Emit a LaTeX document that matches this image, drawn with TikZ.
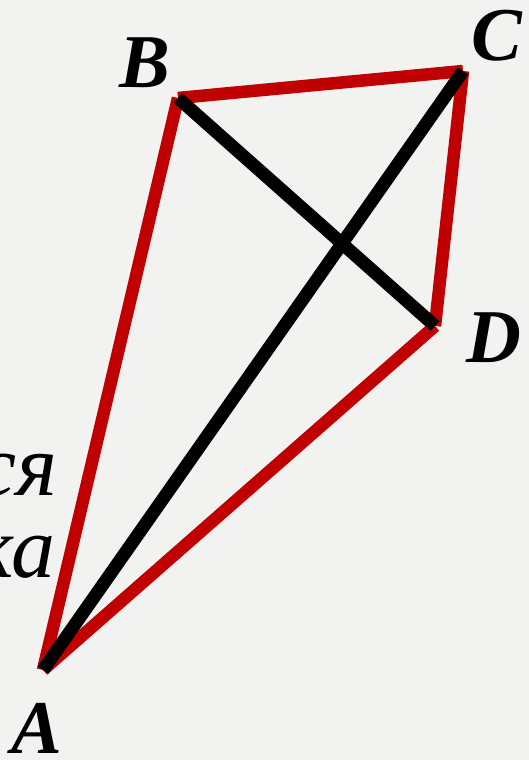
\documentclass[tikz,border=0pt]{standalone}
\usepackage{fontspec}
\setmainfont{Liberation Serif}
\definecolor{bg}{HTML}{F2F2F0}
\definecolor{redline}{HTML}{C00000}
\begin{document}
\begin{tikzpicture}[x=1pt,y=-1pt,
  redside/.style={draw=redline,line width=12.5pt},
  blackdiag/.style={draw=black,line width=13pt},
  vlabel/.style={font=\fontsize{76}{76}\selectfont\bfseries\itshape,inner sep=0pt,anchor=base},
  sidetext/.style={font=\fontsize{88}{88}\selectfont\itshape,inner sep=0pt,anchor=base east}]
\fill[bg] (0,0) rectangle (529,760);
\useasboundingbox (0,0) rectangle (529,760);
\coordinate (A) at (43,670);
\coordinate (B) at (178,98);
\coordinate (C) at (463,71);
\coordinate (D) at (435,326);
\draw[redside] (A) -- (B);
\draw[redside] (B) -- (C);
\draw[redside] (C) -- (D);
\draw[redside] (D) -- (A);
\draw[blackdiag] (A) -- (C);
\draw[blackdiag] (B) -- (D);
\node[vlabel] (lA) at (37,753) {A};
\node[vlabel] (lB) at (145,88) {B};
\node[vlabel] (lC) at (497,60) {C};
\node[vlabel] (lD) at (494,362) {D};
\node[sidetext] (t1) at (58,495) {ся};
\node[sidetext] (t2) at (56,577) {ка};
\end{tikzpicture}
\end{document}
